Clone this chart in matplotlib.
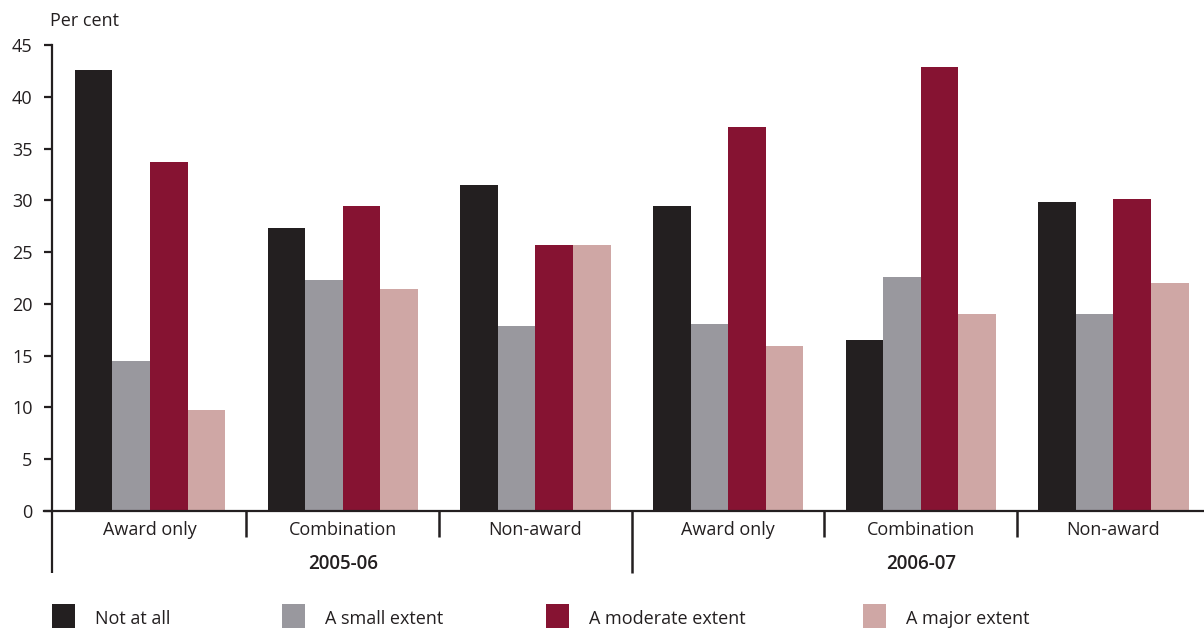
import matplotlib
matplotlib.use("Agg")
import matplotlib.pyplot as plt
import matplotlib.transforms as mtransforms
from matplotlib.patches import Rectangle
import numpy as np

plt.rcParams['font.family'] = ['Open Sans', 'DejaVu Sans']

# Data
years = ["2005-06", "2006-07"]
categories = ["Award only", "Combination", "Non-award"]
series_names = ["Not at all", "A small extent", "A moderate extent", "A major extent"]
not_at_all = [42.6, 27.3, 31.5, 29.5, 16.5, 29.8]
small_extent = [14.5, 22.3, 17.9, 18.1, 22.6, 19.0]
moderate_extent = [33.7, 29.5, 25.7, 37.1, 42.9, 30.1]
major_extent = [9.8, 21.4, 25.7, 15.9, 19.0, 22.0]
y_ticks = [0, 5, 10, 15, 20, 25, 30, 35, 40, 45]

colors = ["#231f20", "#99989e", "#861332", "#cfa7a5"]
series = [not_at_all, small_extent, moderate_extent, major_extent]

W, H = 1204, 632
fig = plt.figure(figsize=(W / 100, H / 100), dpi=100)
ax = fig.add_axes([52 / W, 1 - 511 / H, 1 - 52 / W, (511 - 45) / H])

x = np.arange(len(not_at_all))
bw = 0.195
for k, (vals, col) in enumerate(zip(series, colors)):
    ax.bar(x + (k - 1.5) * bw, vals, width=bw, color=col, linewidth=0, zorder=2)

ax.set_xlim(-0.509, 5.47)
ax.set_ylim(0, 45)
ax.set_yticks(y_ticks)
ax.set_xticks([])
ax.tick_params(axis='y', length=6, width=1.6, color="#231f20", pad=8,
               labelsize=13, labelcolor="#231f20")
for s in ["top", "right"]:
    ax.spines[s].set_visible(False)
for s in ["left", "bottom"]:
    ax.spines[s].set_linewidth(1.6)
    ax.spines[s].set_color("#231f20")
ax.spines["bottom"].set_bounds(-0.55, 5.47)

trans = mtransforms.blended_transform_factory(ax.transData, ax.transAxes)
# Extension of the left axis below the baseline
ax.plot([-0.509, -0.509], [0, -0.133], transform=trans, color="#231f20",
        lw=1.6, clip_on=False, solid_capstyle='butt')
# Separators between categories
for i in range(len(x) - 1):
    pos = i + 0.5
    long_sep = (i + 1) % len(categories) == 0
    bottom = -0.133 if long_sep else -0.056
    ax.plot([pos, pos], [0, bottom], transform=trans, color="#231f20",
            lw=1.8, clip_on=False, solid_capstyle='butt')

# Category and year labels
for i in range(len(x)):
    ax.text(i, -0.040, categories[i % len(categories)], transform=trans,
            ha='center', va='center', fontsize=13, color="#231f20")
for j, yr in enumerate(years):
    cx = j * len(categories) + (len(categories) - 1) / 2
    ax.text(cx, -0.113, yr, transform=trans, ha='center', va='center',
            fontsize=13.5, fontweight='semibold', color="#231f20")

fig.text(50 / W, 1 - 21 / H, "Per cent", ha='left', va='center',
         fontsize=13, color="#231f20")

# Legend
legend_x = [52, 282, 546, 863]
for name, col, lx in zip(series_names, colors, legend_x):
    fig.patches.append(Rectangle((lx / W, 1 - 628 / H), 23 / W, 24 / H,
                                 transform=fig.transFigure, color=col, lw=0))
    fig.text((lx + 43) / W, 1 - 619.5 / H, name, ha='left', va='center',
             fontsize=13, color="#231f20")

fig.savefig("out.png", dpi=100, facecolor="white")
